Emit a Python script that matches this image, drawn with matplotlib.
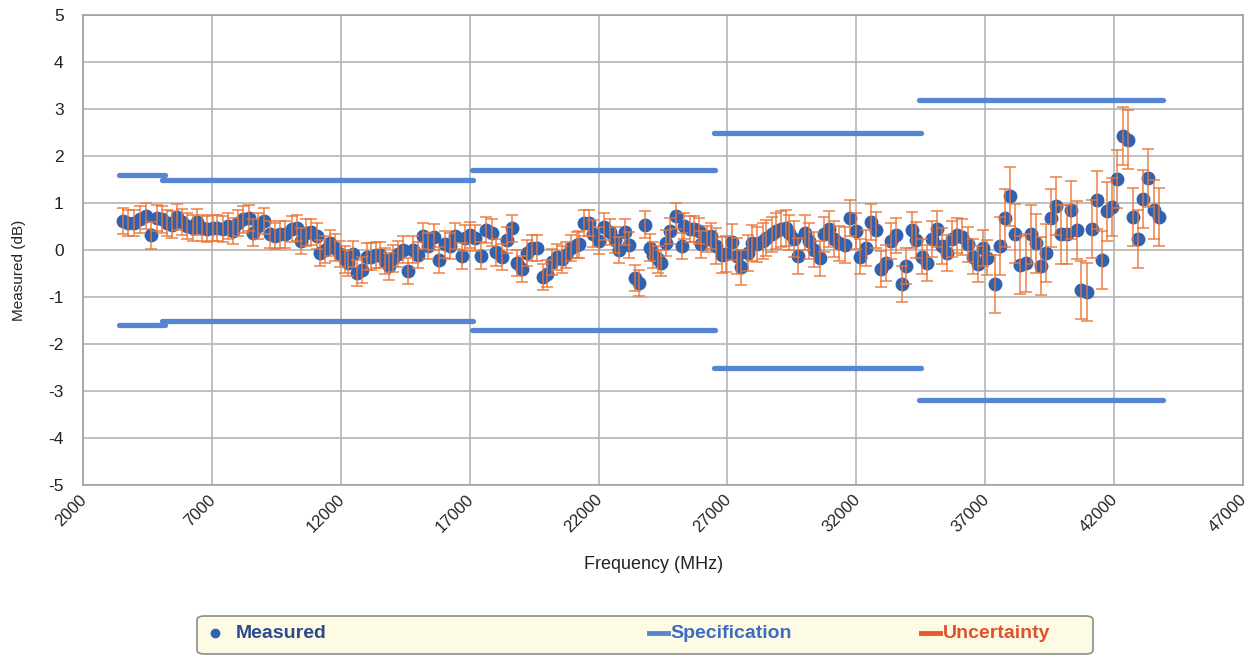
import numpy as np
import matplotlib
matplotlib.use("Agg")
import matplotlib.pyplot as plt
from matplotlib.patches import FancyBboxPatch
from matplotlib.lines import Line2D
from matplotlib.transforms import ScaledTranslation

plt.rcParams['font.family'] = ['Liberation Sans', 'DejaVu Sans']
plt.rcParams['axes.unicode_minus'] = False

# sweep frequencies (MHz) and measured flatness (dB)
freq_mhz = [
    3550, 3740, 3980, 4210, 4440, 4640, 4870, 5060, 5260, 5450,
    5640, 5840, 6030, 6260, 6420, 6610, 6810, 7040, 7190, 7430,
    7620, 7810, 8010, 8200, 8430, 8590, 8780, 9020, 9250, 9440,
    9640, 9830,
    10100, 10300, 10450, 10640, 10840, 11070, 11190, 11380, 11570, 11770,
    11960, 12160, 12270, 12470, 12620, 12810, 13010, 13160, 13360, 13510,
    13710, 13860, 14020, 14210, 14400, 14600, 14790, 14990, 15180, 15370,
    15610, 15800, 16030, 16230, 16420,
    16690, 16810, 17000, 17190, 17430, 17620, 17850, 18010, 18240, 18430,
    18630, 18820, 19020, 19210, 19400, 19600, 19830, 19990, 20180, 20370,
    20570, 20720, 20950, 21150, 21260, 21420, 21610, 21770, 22000, 22230,
    22430, 22620, 22810, 23010, 23200, 23400, 23550,
    23820, 23980, 24130, 24290, 24440, 24600, 24790, 24990, 25220, 25330,
    25530, 25720, 25880, 25990, 26190, 26380, 26570, 26770, 26960, 27160,
    27390, 27540, 27780, 27970, 28160, 28360, 28510, 28710, 28900, 29090,
    29290, 29400, 29600, 29750, 29990, 30180, 30370,
    30600, 30760, 30950, 31150, 31340, 31570, 31770, 32000, 32160, 32390,
    32580, 32780, 32970, 33160, 33360, 33550, 33780, 33940, 34170, 34330,
    34560, 34750, 34950, 35140, 35330, 35530, 35720, 35920, 36110, 36340,
    36540, 36730, 36920, 37080,
    37390, 37580, 37780, 37970, 38160, 38360, 38590, 38780, 38980, 39170,
    39360, 39560, 39750, 39950, 40180, 40330, 40570, 40720, 40950, 41150,
    41340, 41540, 41730, 41920, 42120, 42350, 42540, 42740, 42930, 43120,
    43320, 43550, 43740,
]
measured_db = [
    0.61, 0.58, 0.58, 0.65, 0.73, 0.31, 0.68, 0.65, 0.58, 0.54,
    0.70, 0.59, 0.51, 0.47, 0.59, 0.47, 0.45, 0.47, 0.47, 0.45,
    0.51, 0.40, 0.58, 0.65, 0.68, 0.37, 0.51, 0.61, 0.33, 0.30,
    0.33, 0.33,
    0.44, 0.47, 0.19, 0.37, 0.38, 0.30, -0.06, 0.01, 0.15, 0.05,
    -0.09, -0.20, -0.27, -0.09, -0.49, -0.42, -0.14, -0.14, -0.11, -0.11,
    -0.23, -0.35, -0.18, -0.09, 0.01, -0.44, 0.01, -0.11, 0.30, 0.08,
    0.28, -0.21, 0.12, 0.08, 0.30,
    -0.13, 0.25, 0.32, 0.25, -0.12, 0.43, 0.37, -0.05, -0.15, 0.21,
    0.46, -0.28, -0.40, -0.07, 0.04, 0.04, -0.57, -0.50, -0.25, -0.15,
    -0.20, -0.10, 0.04, 0.10, 0.12, 0.57, 0.58, 0.35, 0.20, 0.50,
    0.39, 0.21, 0.00, 0.39, 0.10, -0.60, -0.70,
    0.54, 0.05, -0.11, -0.20, -0.28, 0.15, 0.40, 0.72, 0.08, 0.51,
    0.45, 0.44, 0.40, 0.12, 0.23, 0.30, 0.08, -0.11, -0.09, 0.17,
    -0.13, -0.37, -0.06, 0.15, 0.12, 0.19, 0.26, 0.33, 0.40, 0.45,
    0.47, 0.37, 0.23, -0.13, 0.37, 0.19, 0.01,
    -0.18, 0.33, 0.45, 0.24, 0.14, 0.10, 0.68, 0.40, -0.14, 0.05,
    0.59, 0.42, -0.41, -0.27, 0.19, 0.31, -0.73, -0.34, 0.42, 0.21,
    -0.14, -0.27, 0.23, 0.45, 0.08, -0.07, 0.24, 0.31, 0.28, 0.12,
    -0.14, -0.30, 0.05, -0.16,
    -0.73, 0.08, 0.68, 1.14, 0.35, -0.32, -0.27, 0.33, 0.14, -0.34,
    -0.07, 0.68, 0.93, 0.33, 0.33, 0.85, 0.42, -0.85, -0.89, 0.44,
    1.07, -0.21, 0.82, 0.92, 1.51, 2.42, 2.35, 0.70, 0.23, 1.08,
    1.53, 0.86, 0.70,
]

# measurement uncertainty (+/- dB) per frequency band
unc_band_start = [0, 26500, 37200]
unc_band_value = [0.28, 0.38, 0.62]

# specification limits (+/- dB) per band
spec_start = [3400, 5080, 17100, 26480, 34420]
spec_stop = [5200, 17140, 26520, 34500, 43880]
spec_limit = [1.6, 1.5, 1.7, 2.5, 3.2]

x_ticks = list(range(2000, 47001, 5000))
y_ticks = list(range(-5, 6))

f = np.array(freq_mhz)
m = np.array(measured_db)
band = np.searchsorted(unc_band_start, f, side='right') - 1
unc = np.array(unc_band_value)[band]

fig = plt.figure(figsize=(12.49, 6.56), dpi=100)
ax = fig.add_axes([83 / 1249, 1 - 485 / 656, 1160 / 1249, 470 / 656])

spec_color = '#5585D5'
point_color = '#3162B0'
unc_color = '#EC7434'

for x0, x1, lim in zip(spec_start, spec_stop, spec_limit):
    ax.plot([x0, x1], [lim, lim], color=spec_color, lw=3.8, solid_capstyle='round', zorder=2)
    ax.plot([x0, x1], [-lim, -lim], color=spec_color, lw=3.8, solid_capstyle='round', zorder=2)

ax.plot(f, m, 'o', color=point_color, markersize=10, markeredgewidth=0, zorder=3)
ax.errorbar(f, m, yerr=unc, fmt='none', ecolor=unc_color, elinewidth=1.1,
            capsize=4, capthick=1.1, zorder=4, alpha=0.9)

ax.set_xlim(2000, 47000)
ax.set_ylim(-5, 5)
ax.set_xticks(x_ticks)
ax.set_yticks(y_ticks)
ax.grid(True, color='#b4b4b4', lw=1.2, zorder=0)
ax.set_axisbelow(True)
for s in ax.spines.values():
    s.set_color('#a0a0a0')
    s.set_linewidth(1.2)
ax.tick_params(length=0, labelsize=12.5, colors='#222222', pad=14)
ax.set_xticklabels([str(t) for t in x_ticks], rotation=45, ha='right',
                   rotation_mode='anchor', fontsize=12)
ax.tick_params(axis='x', pad=5)
shift = ScaledTranslation(-3 / 72, 0, fig.dpi_scale_trans)
for lbl in ax.get_xticklabels():
    lbl.set_transform(lbl.get_transform() + shift)
ax.set_xlabel('Frequency (MHz)', fontsize=13, color='#222222')
ax.xaxis.set_label_coords((654 - 83) / 1160, (485 - 556) / 470)
ax.set_ylabel('Measured (dB)', fontsize=11, color='#222222')
ax.yaxis.set_label_coords((26 - 83) / 1160, (485 - 270) / 470)

# legend strip along the bottom
box = FancyBboxPatch((197 / 1249, 1 - 654 / 656), 896 / 1249, 38 / 656,
                     boxstyle='round,pad=0,rounding_size=0.006',
                     transform=fig.transFigure, facecolor='#FDFBE4',
                     edgecolor='#8c8c8c', lw=1.2)
fig.add_artist(box)
ly = 1 - 633 / 656
fig.add_artist(Line2D([215 / 1249], [ly], marker='o', color=point_color,
                      markersize=7, markeredgewidth=0, transform=fig.transFigure))
fig.add_artist(Line2D([649 / 1249, 668 / 1249], [ly, ly], color=spec_color, lw=3.5,
                      transform=fig.transFigure))
fig.add_artist(Line2D([921 / 1249, 940 / 1249], [ly, ly], color='#E8582A', lw=3.5,
                      transform=fig.transFigure))
fig.text(236 / 1249, ly, 'Measured', color='#2C4A8E', fontsize=14, fontweight='bold',
         va='center', ha='left')
fig.text(670 / 1249, ly, 'Specification', color='#3D6DC2', fontsize=14, fontweight='bold',
         va='center', ha='left')
fig.text(943 / 1249, ly, 'Uncertainty', color='#E0522A', fontsize=14, fontweight='bold',
         va='center', ha='left')

fig.savefig('out.png', dpi=100)
